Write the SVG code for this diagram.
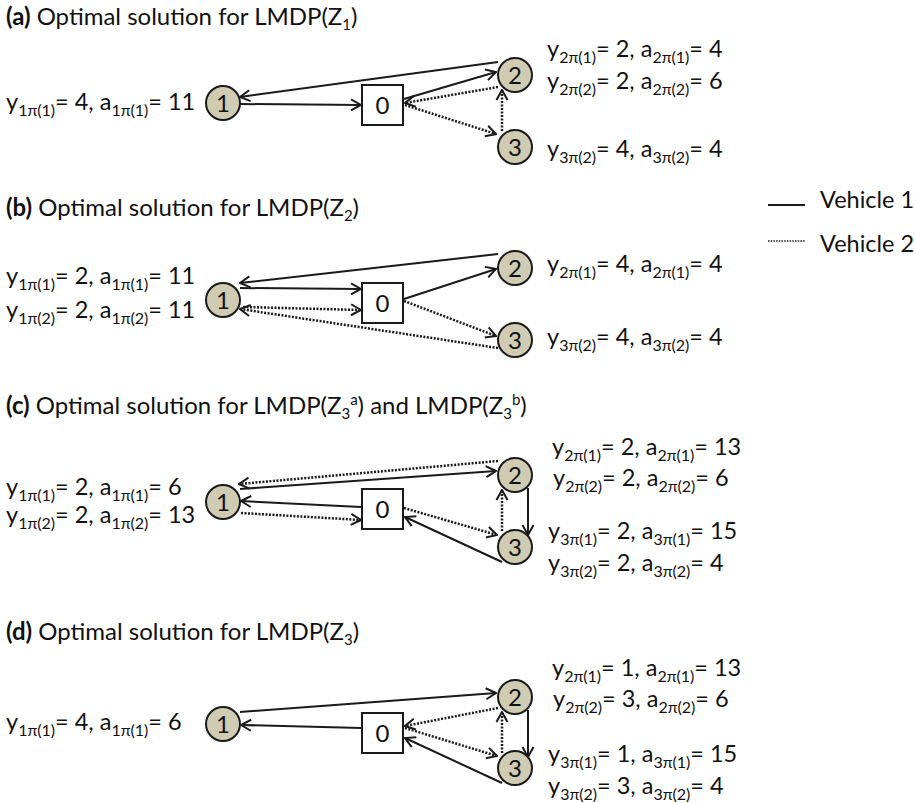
<svg xmlns="http://www.w3.org/2000/svg" width="915" height="803" viewBox="0 0 915 803">
<style>
  .t { font-family: Lato, "Liberation Sans", sans-serif; font-size: 23.5px; fill: #111; }
  .h { font-family: Lato, "Liberation Sans", sans-serif; font-size: 24px; fill: #111; }
  .b { font-weight: bold; }
  .s { font-size: 16px; }
  .hs { font-size: 15px; }
  .node circle { fill: #d0cbb3; stroke: #1a1a1a; stroke-width: 2; }
  .node rect { fill: #fff; stroke: #1a1a1a; stroke-width: 2; }
  .node text { font-family: Lato, "Liberation Sans", sans-serif; font-size: 24px; fill: #111; text-anchor: middle; }
  .v1 { fill: none; stroke: #1a1a1a; stroke-width: 2; marker-end: url(#arr); }
  .v2 { fill: none; stroke: #1a1a1a; stroke-width: 2.5; stroke-dasharray: 2 1.5; marker-end: url(#arr); }
</style>
<defs>
  <marker id="arr" viewBox="-12 -7 13 14" refX="0" refY="0" markerWidth="13" markerHeight="14" markerUnits="userSpaceOnUse" orient="auto">
    <path d="M-10,-5.5 L0,0 L-10,5.5" fill="none" stroke="#1a1a1a" stroke-width="2"/>
  </marker>
</defs>

<!-- ===== Panel (a) ===== -->
<text class="h" x="6" y="25"><tspan class="b">(a)</tspan> Optimal solution for LMDP(Z<tspan class="hs" dy="5">1</tspan><tspan dy="-5">)</tspan></text>
<g id="a-connectors">
  <line class="v1" x1="498" y1="62" x2="240" y2="97"/>
  <line class="v1" x1="240" y1="104" x2="361" y2="105"/>
  <line class="v1" x1="404" y1="99" x2="496" y2="72"/>
  <line class="v2" x1="498" y1="87" x2="405" y2="103"/>
  <line class="v2" x1="405" y1="105" x2="496" y2="134"/>
  <line class="v2" x1="502" y1="131" x2="502" y2="90"/>
</g>
<g id="a-n1" class="node"><circle cx="223" cy="103" r="17"/><text x="223" y="112">1</text></g>
<g id="a-n0" class="node"><rect x="362" y="85" width="41" height="40"/><text x="382.5" y="114">0</text></g>
<g id="a-n2" class="node"><circle cx="515" cy="75" r="17"/><text x="515" y="84">2</text></g>
<g id="a-n3" class="node"><circle cx="515" cy="147" r="17"/><text x="515" y="156">3</text></g>
<text class="t" x="6" y="110">y<tspan class="s" dy="6">1π(1)</tspan><tspan dy="-6">= 4, a</tspan><tspan class="s" dy="6">1π(1)</tspan><tspan dy="-6">= 11</tspan></text>
<text class="t" x="547" y="57">y<tspan class="s" dy="6">2π(1)</tspan><tspan dy="-6">= 2, a</tspan><tspan class="s" dy="6">2π(1)</tspan><tspan dy="-6">= 4</tspan></text>
<text class="t" x="547" y="89">y<tspan class="s" dy="6">2π(2)</tspan><tspan dy="-6">= 2, a</tspan><tspan class="s" dy="6">2π(2)</tspan><tspan dy="-6">= 6</tspan></text>
<text class="t" x="547" y="157">y<tspan class="s" dy="6">3π(2)</tspan><tspan dy="-6">= 4, a</tspan><tspan class="s" dy="6">3π(2)</tspan><tspan dy="-6">= 4</tspan></text>

<!-- ===== Legend ===== -->
<g id="legend">
  <line x1="768" y1="205" x2="805" y2="205" stroke="#1a1a1a" stroke-width="2"/>
  <line x1="768" y1="241" x2="805" y2="241" stroke="#1a1a1a" stroke-width="1.6" stroke-dasharray="1.5 1.2"/>
  <text class="t" x="820" y="208">Vehicle 1</text>
  <text class="t" x="820" y="252">Vehicle 2</text>
</g>

<!-- ===== Panel (b) ===== -->
<text class="h" x="6" y="216"><tspan class="b">(b)</tspan> Optimal solution for LMDP(Z<tspan class="hs" dy="5">2</tspan><tspan dy="-5">)</tspan></text>
<g id="b-connectors">
  <line class="v1" x1="498" y1="254" x2="240" y2="283"/>
  <line class="v1" x1="240" y1="288" x2="361" y2="289"/>
  <line class="v1" x1="404" y1="299" x2="496" y2="269"/>
  <line class="v2" x1="243" y1="307" x2="361" y2="310"/>
  <line class="v2" x1="498" y1="348" x2="240" y2="309"/>
  <line class="v2" x1="404" y1="301" x2="496" y2="336"/>
</g>
<g id="b-n1" class="node"><circle cx="223" cy="300" r="17"/><text x="223" y="309">1</text></g>
<g id="b-n0" class="node"><rect x="362" y="283" width="41" height="40"/><text x="382.5" y="312">0</text></g>
<g id="b-n2" class="node"><circle cx="515" cy="268" r="17"/><text x="515" y="277">2</text></g>
<g id="b-n3" class="node"><circle cx="515" cy="340" r="17"/><text x="515" y="349">3</text></g>
<text class="t" x="6" y="284">y<tspan class="s" dy="6">1π(1)</tspan><tspan dy="-6">= 2, a</tspan><tspan class="s" dy="6">1π(1)</tspan><tspan dy="-6">= 11</tspan></text>
<text class="t" x="6" y="318">y<tspan class="s" dy="6">1π(2)</tspan><tspan dy="-6">= 2, a</tspan><tspan class="s" dy="6">1π(2)</tspan><tspan dy="-6">= 11</tspan></text>
<text class="t" x="547" y="272">y<tspan class="s" dy="6">2π(1)</tspan><tspan dy="-6">= 4, a</tspan><tspan class="s" dy="6">2π(1)</tspan><tspan dy="-6">= 4</tspan></text>
<text class="t" x="547" y="345">y<tspan class="s" dy="6">3π(2)</tspan><tspan dy="-6">= 4, a</tspan><tspan class="s" dy="6">3π(2)</tspan><tspan dy="-6">= 4</tspan></text>

<!-- ===== Panel (c) ===== -->
<text class="h" x="6" y="414"><tspan class="b">(c)</tspan> Optimal solution for LMDP(Z<tspan class="hs" dy="5">3</tspan><tspan class="hs" dy="-14">a</tspan><tspan dy="9">) and LMDP(Z</tspan><tspan class="hs" dy="5">3</tspan><tspan class="hs" dy="-14">b</tspan><tspan dy="9">)</tspan></text>
<g id="c-connectors">
  <line class="v2" x1="498" y1="461" x2="239" y2="484"/>
  <line class="v1" x1="240" y1="489" x2="496" y2="471"/>
  <line class="v1" x1="361" y1="507" x2="241" y2="501"/>
  <line class="v2" x1="241" y1="513" x2="361" y2="520"/>
  <line class="v2" x1="404" y1="508" x2="497" y2="535"/>
  <line class="v1" x1="502" y1="562" x2="405" y2="517"/>
  <line class="v2" x1="502" y1="531" x2="502" y2="490"/>
  <line class="v1" x1="528" y1="488" x2="528" y2="535"/>
</g>
<g id="c-n1" class="node"><circle cx="223" cy="502" r="17"/><text x="223" y="511">1</text></g>
<g id="c-n0" class="node"><rect x="362" y="489" width="41" height="40"/><text x="382.5" y="518">0</text></g>
<g id="c-n2" class="node"><circle cx="515" cy="475" r="17"/><text x="515" y="484">2</text></g>
<g id="c-n3" class="node"><circle cx="515" cy="547" r="17"/><text x="515" y="556">3</text></g>
<text class="t" x="6" y="495">y<tspan class="s" dy="6">1π(1)</tspan><tspan dy="-6">= 2, a</tspan><tspan class="s" dy="6">1π(1)</tspan><tspan dy="-6">= 6</tspan></text>
<text class="t" x="6" y="523">y<tspan class="s" dy="6">1π(2)</tspan><tspan dy="-6">= 2, a</tspan><tspan class="s" dy="6">1π(2)</tspan><tspan dy="-6">= 13</tspan></text>
<text class="t" x="552" y="455">y<tspan class="s" dy="6">2π(1)</tspan><tspan dy="-6">= 2, a</tspan><tspan class="s" dy="6">2π(1)</tspan><tspan dy="-6">= 13</tspan></text>
<text class="t" x="553" y="486">y<tspan class="s" dy="6">2π(2)</tspan><tspan dy="-6">= 2, a</tspan><tspan class="s" dy="6">2π(2)</tspan><tspan dy="-6">= 6</tspan></text>
<text class="t" x="548" y="539">y<tspan class="s" dy="6">3π(1)</tspan><tspan dy="-6">= 2, a</tspan><tspan class="s" dy="6">3π(1)</tspan><tspan dy="-6">= 15</tspan></text>
<text class="t" x="548" y="571">y<tspan class="s" dy="6">3π(2)</tspan><tspan dy="-6">= 2, a</tspan><tspan class="s" dy="6">3π(2)</tspan><tspan dy="-6">= 4</tspan></text>

<!-- ===== Panel (d) ===== -->
<text class="h" x="6" y="640"><tspan class="b">(d)</tspan> Optimal solution for LMDP(Z<tspan class="hs" dy="5">3</tspan><tspan dy="-5">)</tspan></text>
<g id="d-connectors">
  <line class="v1" x1="240" y1="712" x2="496" y2="693"/>
  <line class="v1" x1="361" y1="728" x2="241" y2="725"/>
  <line class="v2" x1="498" y1="708" x2="405" y2="726"/>
  <line class="v2" x1="405" y1="728" x2="497" y2="756"/>
  <line class="v1" x1="502" y1="783" x2="405" y2="738"/>
  <line class="v2" x1="502" y1="753" x2="502" y2="712"/>
  <line class="v1" x1="528" y1="710" x2="528" y2="757"/>
</g>
<g id="d-n1" class="node"><circle cx="223" cy="724" r="17"/><text x="223" y="733">1</text></g>
<g id="d-n0" class="node"><rect x="362" y="713" width="41" height="40"/><text x="382.5" y="742">0</text></g>
<g id="d-n2" class="node"><circle cx="515" cy="697" r="17"/><text x="515" y="706">2</text></g>
<g id="d-n3" class="node"><circle cx="515" cy="768" r="17"/><text x="515" y="777">3</text></g>
<text class="t" x="6" y="730">y<tspan class="s" dy="6">1π(1)</tspan><tspan dy="-6">= 4, a</tspan><tspan class="s" dy="6">1π(1)</tspan><tspan dy="-6">= 6</tspan></text>
<text class="t" x="552" y="676">y<tspan class="s" dy="6">2π(1)</tspan><tspan dy="-6">= 1, a</tspan><tspan class="s" dy="6">2π(1)</tspan><tspan dy="-6">= 13</tspan></text>
<text class="t" x="553" y="707">y<tspan class="s" dy="6">2π(2)</tspan><tspan dy="-6">= 3, a</tspan><tspan class="s" dy="6">2π(2)</tspan><tspan dy="-6">= 6</tspan></text>
<text class="t" x="548" y="762">y<tspan class="s" dy="6">3π(1)</tspan><tspan dy="-6">= 1, a</tspan><tspan class="s" dy="6">3π(1)</tspan><tspan dy="-6">= 15</tspan></text>
<text class="t" x="548" y="794">y<tspan class="s" dy="6">3π(2)</tspan><tspan dy="-6">= 3, a</tspan><tspan class="s" dy="6">3π(2)</tspan><tspan dy="-6">= 4</tspan></text>
</svg>
